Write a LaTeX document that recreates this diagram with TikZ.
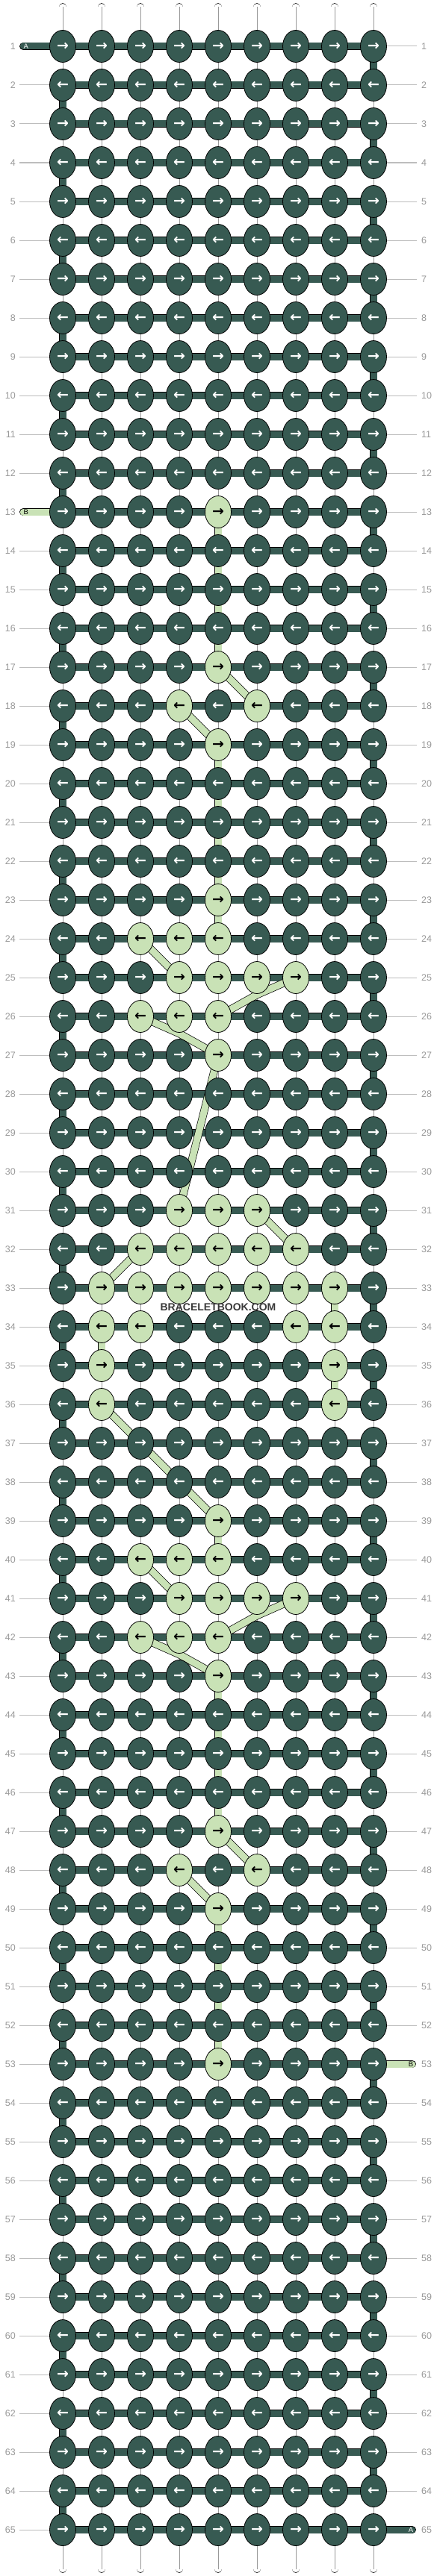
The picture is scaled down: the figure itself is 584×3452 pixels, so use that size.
\documentclass[tikz,border=0pt]{standalone}
\usepackage{fontspec}
\setmainfont{Liberation Sans}
\newfontfamily\arrowfont{DejaVu Sans}
\usetikzlibrary{shapes.geometric,calc}
\definecolor{dk}{HTML}{375A52}
\definecolor{lt}{HTML}{C9E2B6}
\definecolor{lblgray}{HTML}{9A9A9A}
\definecolor{linegray}{HTML}{BDBDBD}
\definecolor{wmgray}{HTML}{3A3A3A}
\pgfdeclarelayer{bg}
\pgfdeclarelayer{mid}
\pgfsetlayers{bg,mid,main}
\tikzset{
 knotD/.style={ellipse, draw=black, line width=0.8pt, fill=dk, text=white, minimum width=35pt, minimum height=43pt, inner sep=0pt, font=\arrowfont\bfseries\fontsize{19}{19}\selectfont},
 knotL/.style={knotD, fill=lt, text=black},
 hbar/.style={line width=0.8pt, draw=black, double=dk, double distance=9pt},
 hbarL/.style={hbar, double=lt},
 strand/.style={line width=0.8pt, draw=black, double=white, double distance=9.2pt},
 strandmid/.style={line width=0.5pt, draw=black!40},
 turnbar/.style={hbar},
 vbarL/.style={hbarL},
 lbar/.style={line width=0.7pt, draw=black, double=lt, double distance=9pt, line join=round},
 rowlbl/.style={inner sep=0pt, text=lblgray, font=\fontsize{12.5}{14}\selectfont},
 lblline/.style={draw=linegray, line width=1pt},
 tailtxt/.style={inner sep=0pt, font=\fontsize{9.5}{10}\selectfont},
 wmark/.style={inner sep=0pt, text=wmgray, font=\bfseries\fontsize{14}{14}\selectfont},
}
% light knots
\foreach \r/\c in {13/5,17/5,18/4,18/6,19/5,23/5,24/3,24/4,24/5,25/4,25/5,25/6,25/7,26/3,26/4,26/5,27/5,
  31/4,31/5,31/6,32/3,32/4,32/5,32/6,32/7,33/2,33/3,33/4,33/5,33/6,33/7,33/8,34/2,34/3,34/7,34/8,35/2,35/8,36/2,36/8,
  39/5,40/3,40/4,40/5,41/4,41/5,41/6,41/7,42/3,42/4,42/5,43/5,47/5,48/4,48/6,49/5,53/5}{%
  \expandafter\gdef\csname lt-\r-\c\endcsname{}}
% light vertical links (between row r and r+1 in column c)
\foreach \r/\c in {13/5,14/5,15/5,16/5,19/5,20/5,21/5,22/5,23/5,33/8,34/2,35/8,39/5,43/5,44/5,45/5,46/5,49/5,50/5,51/5,52/5}{%
  \expandafter\gdef\csname lv-\r-\c\endcsname{}}
\begin{document}
\begin{tikzpicture}[x=1pt,y=-1pt]
\useasboundingbox (0,0) rectangle (584,3452);
\begin{pgfonlayer}{bg}
\fill[white] (0,0) rectangle (584,3452);
\end{pgfonlayer}
% knots
\foreach \r in {1,...,65}{
  \foreach \c in {1,...,9}{
    \edef\kst{\ifcsname lt-\r-\c\endcsname knotL\else knotD\fi}
    \ifodd\r \def\ar{→}\else \def\ar{←}\fi
    \node[\kst] (k-\r-\c) at ({84+52*(\c-1)},{62+52*(\r-1)}) {\ar};
  }
}
\begin{pgfonlayer}{bg}
% label lines
\foreach \r in {2,...,12,14,15,...,65}{
  \coordinate (ll-\r) at (26,{62+52*(\r-1)});
  \draw[lblline] (ll-\r) -- (k-\r-1.center);
}
\foreach \r in {1,...,52,54,55,...,64}{
  \coordinate (lr-\r) at (558,{62+52*(\r-1)});
  \draw[lblline] (k-\r-9.center) -- (lr-\r);
}
% top and bottom strands
\foreach \c in {1,...,9}{
  \coordinate (ts-\c) at ({84+52*(\c-1)},9.5);
  \coordinate (bs-\c) at ({84+52*(\c-1)},3442.5);
  \draw[strand, line cap=round] (ts-\c) -- (k-1-\c.center);
  \draw[strandmid] (ts-\c) -- (k-1-\c.center);
  \draw[strand, line cap=round] (k-65-\c.center) -- (bs-\c);
  \draw[strandmid] (k-65-\c.center) -- (bs-\c);
}
% vertical links
\foreach \r [evaluate=\r as \n using int(\r+1)] in {1,...,64}{
  \foreach \c in {1,...,9}{
    \ifodd\r \def\endc{9}\else \def\endc{1}\fi
    \ifnum\c=\endc\relax
      \draw[turnbar] (k-\r-\c.center) -- (k-\n-\c.center);
    \else
      \ifcsname lv-\r-\c\endcsname
        \draw[vbarL] (k-\r-\c.center) -- (k-\n-\c.center);
      \else
        \draw[strand] (k-\r-\c.center) -- (k-\n-\c.center);
        \draw[strandmid] (k-\r-\c.center) -- (k-\n-\c.center);
      \fi
    \fi
  }
}
% horizontal bars
\foreach \r in {1,...,65}{
  \draw[hbar] (k-\r-1.center) -- (k-\r-9.center);
}
% tails
\coordinate (tailA1) at (31.3,62);
\coordinate (tailB13) at (31.3,686);
\coordinate (tailB53) at (551.7,2766);
\coordinate (tailA65) at (551.7,3390);
\draw[hbar, line cap=round] (tailA1) -- (k-1-1.center);
\draw[hbarL, line cap=round] (tailB13) -- (k-13-1.center);
\draw[hbarL, line cap=round] (tailB53) -- (k-53-9.center);
\draw[hbar, line cap=round] (tailA65) -- (k-65-9.center);
\end{pgfonlayer}
% diagonal light links
\begin{pgfonlayer}{mid}
\draw[lbar] (k-17-5.center) -- (k-18-6.center);
\draw[lbar] (k-18-4.center) -- (k-19-5.center);
\draw[lbar] (k-24-3.center) -- (k-25-4.center);
\coordinate (kink25) at ($(k-25-6.center)+(0,23)$);
\draw[lbar] (k-25-7.center) -- (kink25) -- (k-26-5.center);
\coordinate (kink26) at ($(k-26-4.center)+(0,23)$);
\draw[lbar] (k-26-3.center) -- (kink26) -- (k-27-5.center);
\draw[lbar] (k-27-5.center) -- (k-31-4.center);
\draw[lbar] (k-31-6.center) -- (k-32-7.center);
\draw[lbar] (k-32-3.center) -- (k-33-2.center);
\draw[lbar] (k-36-2.center) -- (k-39-5.center);
\draw[lbar] (k-40-3.center) -- (k-41-4.center);
\coordinate (kink41) at ($(k-41-6.center)+(0,23)$);
\draw[lbar] (k-41-7.center) -- (kink41) -- (k-42-5.center);
\coordinate (kink42) at ($(k-42-4.center)+(0,23)$);
\draw[lbar] (k-42-3.center) -- (kink42) -- (k-43-5.center);
\draw[lbar] (k-47-5.center) -- (k-48-6.center);
\draw[lbar] (k-48-4.center) -- (k-49-5.center);
\end{pgfonlayer}
% tail letters
\node[tailtxt, text=white] (txtA1) at (34.7,62) {A};
\node[tailtxt, text=black] (txtB13) at (34.7,686) {B};
\node[tailtxt, text=black] (txtB53) at (550,2766) {B};
\node[tailtxt, text=white] (txtA65) at (550,3390) {A};
% row numbers
\foreach \r in {1,...,65}{
  \node[rowlbl, anchor=east] (nl-\r) at (21,{62+52*(\r-1)}) {\r};
  \node[rowlbl, anchor=west] (nr-\r) at (564,{62+52*(\r-1)}) {\r};
}
% watermark
\node[wmark] (wm) at (292,1752) {BRACELETBOOK.COM};
\end{tikzpicture}
\end{document}
